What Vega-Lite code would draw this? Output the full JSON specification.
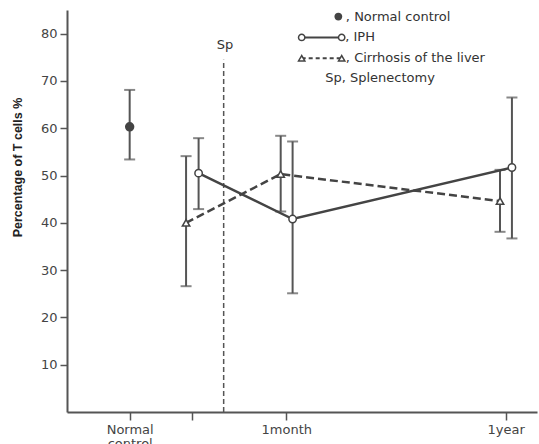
{
  "$schema": "https://vega.github.io/schema/vega-lite/v6.json",
  "width": 470,
  "height": 402,
  "autosize": "none",
  "padding": {"left": 67, "top": 10, "right": 2, "bottom": 32},
  "background": "white",
  "config": {"view": {"stroke": null}, "font": "DejaVu Sans", "axis": {"grid": false}},
  "datasets": {
    "points": [
      {"group": "Normal", "x": 1.0, "y": 60.3, "lo": 53.4, "hi": 68.1},
      {"group": "IPH", "x": 2.1, "y": 50.5, "lo": 42.9, "hi": 57.9},
      {"group": "IPH", "x": 3.6, "y": 40.8, "lo": 25.1, "hi": 57.2},
      {"group": "IPH", "x": 7.1, "y": 51.7, "lo": 36.7, "hi": 66.5},
      {"group": "Cirrhosis", "x": 1.9, "y": 40.0, "lo": 26.6, "hi": 54.1},
      {"group": "Cirrhosis", "x": 3.41, "y": 50.3, "lo": 42.4, "hi": 58.4},
      {"group": "Cirrhosis", "x": 6.91, "y": 44.6, "lo": 38.1, "hi": 51.2}
    ],
    "sp": [{"x": 2.5, "y": 0, "y2": 74.5, "lx": 2.52, "ly": 77.6, "label": "Sp"}],
    "legendSym": [
      {"item": "Normal", "x": 4.33, "y": 83.6},
      {"item": "IPH", "x": 3.745, "y": 79.2},
      {"item": "IPH", "x": 4.383, "y": 79.2},
      {"item": "Cirrhosis", "x": 3.745, "y": 74.8},
      {"item": "Cirrhosis", "x": 4.383, "y": 74.8}
    ],
    "legendText": [
      {"x": 4.45, "y": 83.6, "text": ", Normal control"},
      {"x": 4.44, "y": 79.2, "text": ", IPH"},
      {"x": 4.45, "y": 74.8, "text": ", Cirrhosis of the liver"},
      {"x": 4.12, "y": 70.6, "text": "Sp, Splenectomy"}
    ]
  },
  "layer": [
    {
      "data": {"name": "points"},
      "mark": {"type": "rule", "color": "#555", "strokeWidth": 2},
      "encoding": {
        "x": {"field": "x", "type": "quantitative", "scale": {"domain": [0, 7.5], "nice": false}, "title": null,
          "axis": {"values": [1, 2, 3.5, 7],
            "labelExpr": "datum.value == 1 ? ['Normal', 'control'] : datum.value == 3.5 ? '1month' : datum.value == 7 ? '1year' : ''",
            "labelFontSize": 13, "labelColor": "#444", "labelPadding": 3, "labelLineHeight": 14,
            "tickSize": 8, "tickWidth": 1.5, "tickColor": "#555", "domainColor": "#555", "domainWidth": 2}},
        "y": {"field": "lo", "type": "quantitative", "scale": {"domain": [0, 85], "nice": false}, "title": "Percentage of T cells  %",
          "axis": {"values": [10, 20, 30, 40, 50, 60, 70, 80],
            "titleFont": "Liberation Sans", "titleFontWeight": "bold", "titleFontSize": 12.5, "titleColor": "#222",
            "titleX": -50, "titleY": 157, "titleAngle": -90, "titleAlign": "center", "titleBaseline": "middle",
            "labelFontSize": 13, "labelColor": "#444", "labelPadding": 3,
            "tickSize": 7, "tickWidth": 1.5, "tickColor": "#555", "domainColor": "#555", "domainWidth": 2}},
        "y2": {"field": "hi"}
      }
    },
    {
      "data": {"name": "points"},
      "mark": {"type": "tick", "orient": "horizontal", "size": 11, "thickness": 2, "color": "#555"},
      "encoding": {
        "x": {"field": "x", "type": "quantitative", "scale": {"domain": [0, 7.5], "nice": false}, "title": null},
        "y": {"field": "lo", "type": "quantitative", "scale": {"domain": [0, 85], "nice": false}, "title": "Percentage of T cells  %"}
      }
    },
    {
      "data": {"name": "points"},
      "mark": {"type": "tick", "orient": "horizontal", "size": 11, "thickness": 2, "color": "#555"},
      "encoding": {
        "x": {"field": "x", "type": "quantitative", "scale": {"domain": [0, 7.5], "nice": false}, "title": null},
        "y": {"field": "hi", "type": "quantitative", "scale": {"domain": [0, 85], "nice": false}, "title": "Percentage of T cells  %"}
      }
    },
    {
      "data": {"name": "sp"},
      "mark": {"type": "rule", "color": "#555", "strokeWidth": 1.5, "strokeDash": [5, 3]},
      "encoding": {
        "x": {"field": "x", "type": "quantitative", "scale": {"domain": [0, 7.5], "nice": false}, "title": null},
        "y": {"field": "y", "type": "quantitative", "scale": {"domain": [0, 85], "nice": false}, "title": "Percentage of T cells  %"},
        "y2": {"field": "y2"}
      }
    },
    {
      "data": {"name": "sp"},
      "mark": {"type": "text", "fontSize": 13, "color": "#333", "align": "center", "baseline": "middle"},
      "encoding": {
        "x": {"field": "lx", "type": "quantitative", "scale": {"domain": [0, 7.5], "nice": false}, "title": null},
        "y": {"field": "ly", "type": "quantitative", "scale": {"domain": [0, 85], "nice": false}, "title": "Percentage of T cells  %"},
        "text": {"field": "label"}
      }
    },
    {
      "data": {"name": "points"},
      "transform": [{"filter": "datum.group == 'IPH'"}],
      "mark": {"type": "line", "color": "#444", "strokeWidth": 2.5},
      "encoding": {
        "x": {"field": "x", "type": "quantitative", "scale": {"domain": [0, 7.5], "nice": false}, "title": null},
        "y": {"field": "y", "type": "quantitative", "scale": {"domain": [0, 85], "nice": false}, "title": "Percentage of T cells  %"},
        "order": {"field": "x"}
      }
    },
    {
      "data": {"name": "points"},
      "transform": [{"filter": "datum.group == 'Cirrhosis'"}],
      "mark": {"type": "line", "color": "#444", "strokeWidth": 2.5, "strokeDash": [8, 4]},
      "encoding": {
        "x": {"field": "x", "type": "quantitative", "scale": {"domain": [0, 7.5], "nice": false}, "title": null},
        "y": {"field": "y", "type": "quantitative", "scale": {"domain": [0, 85], "nice": false}, "title": "Percentage of T cells  %"},
        "order": {"field": "x"}
      }
    },
    {
      "data": {"name": "points"},
      "transform": [{"filter": "datum.group == 'IPH'"}],
      "mark": {"type": "point", "shape": "circle", "filled": true, "fill": "white", "stroke": "#444", "strokeWidth": 1.5, "size": 55, "opacity": 1},
      "encoding": {
        "x": {"field": "x", "type": "quantitative", "scale": {"domain": [0, 7.5], "nice": false}, "title": null},
        "y": {"field": "y", "type": "quantitative", "scale": {"domain": [0, 85], "nice": false}, "title": "Percentage of T cells  %"}
      }
    },
    {
      "data": {"name": "points"},
      "transform": [{"filter": "datum.group == 'Cirrhosis'"}],
      "mark": {"type": "point", "shape": "triangle-up", "filled": true, "fill": "white", "stroke": "#444", "strokeWidth": 1.5, "size": 55, "opacity": 1},
      "encoding": {
        "x": {"field": "x", "type": "quantitative", "scale": {"domain": [0, 7.5], "nice": false}, "title": null},
        "y": {"field": "y", "type": "quantitative", "scale": {"domain": [0, 85], "nice": false}, "title": "Percentage of T cells  %"}
      }
    },
    {
      "data": {"name": "points"},
      "transform": [{"filter": "datum.group == 'Normal'"}],
      "mark": {"type": "point", "shape": "circle", "filled": true, "fill": "#444", "stroke": "#444", "size": 55, "opacity": 1},
      "encoding": {
        "x": {"field": "x", "type": "quantitative", "scale": {"domain": [0, 7.5], "nice": false}, "title": null},
        "y": {"field": "y", "type": "quantitative", "scale": {"domain": [0, 85], "nice": false}, "title": "Percentage of T cells  %"}
      }
    },
    {
      "data": {"name": "legendSym"},
      "transform": [{"filter": "datum.item == 'IPH'"}],
      "mark": {"type": "line", "color": "#444", "strokeWidth": 2},
      "encoding": {
        "x": {"field": "x", "type": "quantitative", "scale": {"domain": [0, 7.5], "nice": false}, "title": null},
        "y": {"field": "y", "type": "quantitative", "scale": {"domain": [0, 85], "nice": false}, "title": "Percentage of T cells  %"}
      }
    },
    {
      "data": {"name": "legendSym"},
      "transform": [{"filter": "datum.item == 'Cirrhosis'"}],
      "mark": {"type": "line", "color": "#444", "strokeWidth": 2, "strokeDash": [4, 3]},
      "encoding": {
        "x": {"field": "x", "type": "quantitative", "scale": {"domain": [0, 7.5], "nice": false}, "title": null},
        "y": {"field": "y", "type": "quantitative", "scale": {"domain": [0, 85], "nice": false}, "title": "Percentage of T cells  %"}
      }
    },
    {
      "data": {"name": "legendSym"},
      "mark": {"type": "point", "filled": true, "strokeWidth": 1.5, "size": 40, "opacity": 1, "stroke": "#444"},
      "encoding": {
        "x": {"field": "x", "type": "quantitative", "scale": {"domain": [0, 7.5], "nice": false}, "title": null},
        "y": {"field": "y", "type": "quantitative", "scale": {"domain": [0, 85], "nice": false}, "title": "Percentage of T cells  %"},
        "shape": {"field": "item", "type": "nominal", "scale": {"domain": ["Normal", "IPH", "Cirrhosis"], "range": ["circle", "circle", "triangle-up"]}, "legend": null},
        "fill": {"field": "item", "type": "nominal", "scale": {"domain": ["Normal", "IPH", "Cirrhosis"], "range": ["#444", "white", "white"]}, "legend": null}
      }
    },
    {
      "data": {"name": "legendText"},
      "mark": {"type": "text", "fontSize": 13, "color": "#333", "align": "left", "baseline": "middle"},
      "encoding": {
        "x": {"field": "x", "type": "quantitative", "scale": {"domain": [0, 7.5], "nice": false}, "title": null},
        "y": {"field": "y", "type": "quantitative", "scale": {"domain": [0, 85], "nice": false}, "title": "Percentage of T cells  %"},
        "text": {"field": "text"}
      }
    }
  ]
}
